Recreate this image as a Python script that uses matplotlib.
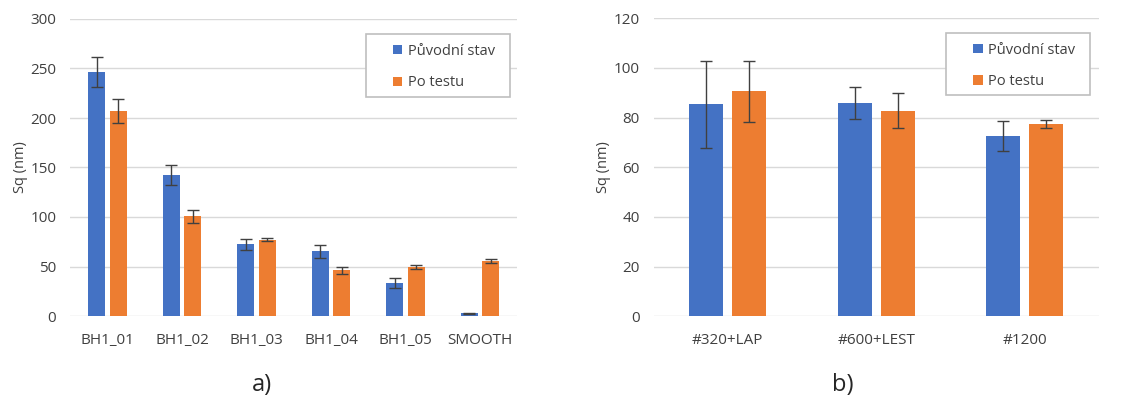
import matplotlib
matplotlib.use("Agg")
import matplotlib.pyplot as plt
from matplotlib.patches import Rectangle
import numpy as np

plt.rcParams['font.family'] = ['Open Sans', 'DejaVu Sans']

# Panel a)
cats_a = ["BH1_01", "BH1_02", "BH1_03", "BH1_04", "BH1_05", "SMOOTH"]
orig_a = [246.5, 142.5, 72.4, 65.3, 33.3, 2.7]
orig_a_err = [15, 10.5, 5.5, 6.4, 5.5, 0.5]
test_a = [207, 100.7, 77, 46.1, 49.5, 55.9]
test_a_err = [12, 6.5, 1.7, 3.9, 2.3, 2]

# Panel b)
cats_b = ["#320+LAP", "#600+LEST", "#1200"]
orig_b = [85.4, 86, 72.5]
orig_b_err = [17.6, 6.4, 6]
test_b = [90.6, 82.8, 77.4]
test_b_err = [12.4, 7, 1.7]

series_names = ["Původní stav", "Po testu"]
BLUE = "#4472C4"
ORANGE = "#ED7D31"
TXT = "#404040"

fig = plt.figure(figsize=(11.33, 3.98), dpi=100)
ax1 = fig.add_axes([70.25/1133, 82/398, 447/1133, 297/398])
ax2 = fig.add_axes([653.6/1133, 81.7/398, 445/1133, 298/398])

def draw(ax, cats, o, oe, t, te, ymax, step, box, leg_anchor):
    x = np.arange(len(cats))
    w = 0.23
    off = 0.145
    ekw = dict(ecolor="#404040", elinewidth=1.0, capthick=1.0)
    ax.bar(x - off, o, w, yerr=oe, color=BLUE, capsize=4, error_kw=ekw,
           label=series_names[0], zorder=3)
    ax.bar(x + off, t, w, yerr=te, color=ORANGE, capsize=4, error_kw=ekw,
           label=series_names[1], zorder=3)
    ax.set_xlim(-0.5, len(cats) - 0.5)
    ax.set_ylim(0, ymax)
    ax.set_yticks(np.arange(0, ymax + 1, step))
    ax.set_xticks(x)
    ax.set_xticklabels(cats)
    ax.tick_params(axis='both', length=0, labelsize=11, colors=TXT)
    ax.tick_params(axis='x', pad=12)
    ax.tick_params(axis='y', pad=10)
    ax.grid(axis='y', color="#D9D9D9", linewidth=1.0, zorder=0)
    for s in ax.spines.values():
        s.set_visible(False)
    ax.set_ylabel("Sq (nm)", fontsize=10.5, color=TXT, labelpad=2)
    # legend frame
    x0, y0, x1, y1 = box
    ax.add_patch(Rectangle((x0, y0), x1 - x0, y1 - y0, transform=ax.transAxes,
                           facecolor="white", edgecolor="#BFBFBF", linewidth=1.2,
                           zorder=5, clip_on=False))
    leg = ax.legend(loc="center left", bbox_to_anchor=leg_anchor, fontsize=10.5,
                    handlelength=0.65, handleheight=0.65, labelspacing=1.15,
                    borderpad=0, handletextpad=0.35, frameon=False,
                    borderaxespad=0)
    leg.set_zorder(6)
    for txt in leg.get_texts():
        txt.set_color(TXT)

draw(ax1, cats_a, orig_a, orig_a_err, test_a, test_a_err, 300, 50,
     (0.6616, 0.737, 0.984, 0.949), (0.722, 0.838))
draw(ax2, cats_b, orig_b, orig_b_err, test_b, test_b_err, 120, 20,
     (0.657, 0.743, 0.981, 0.951), (0.7178, 0.840))

fig.text(262/1133, 1 - 385/398, "a)", fontsize=17, ha="center", va="center", color="#262626")
fig.text(843/1133, 1 - 385/398, "b)", fontsize=17, ha="center", va="center", color="#262626")

fig.savefig("out.png", dpi=100)
